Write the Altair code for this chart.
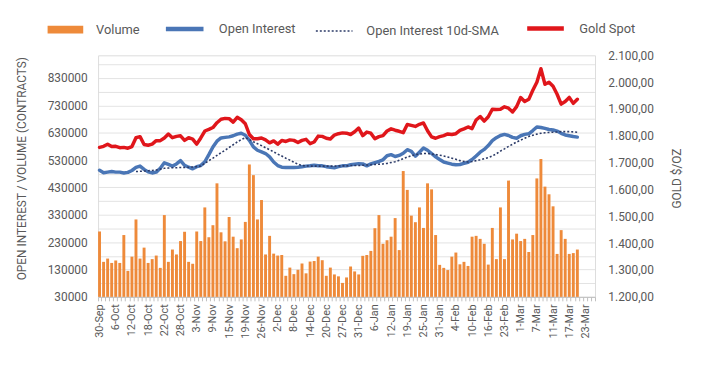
import json
import altair as alt
import pandas as pd

# ---------------- categories ----------------
holidays = ["2021-11-25", "2021-12-24", "2022-01-17", "2022-02-21"]
days = [d for d in pd.bdate_range("2021-09-30", "2022-03-25") if d.strftime("%Y-%m-%d") not in holidays]
dates = [f"{d.day}-{d.strftime('%b')}" for d in days]
shown_labels = dates[::4]

# ---------------- series ----------------
volume = [269000, 158000, 170000, 154000, 163000, 154000, 256000, 125000, 177000, 313000,
          170000, 210000, 154000, 168000, 181000, 136000, 329000, 158000, 203000, 185000,
          234000, 268000, 158000, 151000, 269000, 234000, 357000, 248000, 292000, 445000,
          266000, 233000, 322000, 250000, 208000, 240000, 304000, 514000, 475000, 313000,
          384000, 185000, 253000, 188000, 181000, 183000, 107000, 137000, 113000, 129000,
          152000, 116000, 159000, 161000, 177000, 164000, 107000, 137000, 112000, 105000,
          81000, 101000, 141000, 123000, 112000, 180000, 183000, 198000, 281000, 329000,
          224000, 237000, 250000, 318000, 201000, 490000, 421000, 327000, 303000, 357000,
          282000, 445000, 423000, 256000, 147000, 136000, 128000, 177000, 192000, 149000,
          158000, 143000, 250000, 253000, 242000, 224000, 148000, 282000, 168000, 357000,
          168000, 455000, 240000, 261000, 234000, 242000, 194000, 256000, 463000, 534000,
          433000, 405000, 361000, 187000, 274000, 242000, 187000, 190000, 203000]

open_interest = [493000, 484000, 486000, 488000, 486000, 486000, 483000, 485000, 492000, 503000,
                 508000, 496000, 487000, 483000, 486000, 500000, 520000, 514000, 508000, 516000,
                 528000, 511000, 504000, 498000, 506000, 510000, 524000, 550000, 578000, 599000,
                 611000, 613000, 615000, 619000, 625000, 628000, 621000, 602000, 578000, 566000,
                 560000, 554000, 542000, 523000, 510000, 504000, 503000, 503000, 503000, 504000,
                 506000, 508000, 509000, 511000, 509000, 509000, 506000, 504000, 502000, 506000,
                 509000, 509000, 513000, 515000, 517000, 516000, 509000, 516000, 521000, 525000,
                 531000, 546000, 550000, 543000, 547000, 555000, 568000, 562000, 544000, 559000,
                 574000, 566000, 554000, 542000, 532000, 523000, 519000, 515000, 513000, 514000,
                 518000, 522000, 532000, 545000, 559000, 569000, 583000, 601000, 612000, 620000,
                 624000, 620000, 613000, 610000, 619000, 624000, 626000, 638000, 651000, 649000,
                 646000, 642000, 640000, 636000, 628000, 622000, 619000, 616000, 614000]

oi_sma10 = [None] * 9 + [
                 488000, 489000, 490000, 491000, 492000, 494000, 497000, 500000, 501000, 502000,
                 502000, 503000, 503000, 504000, 505000, 506000, 508000, 518000, 528000, 537000,
                 547000, 557000, 566000, 576000, 586000, 596000, 605000, 612000, 605000, 597000,
                 590000, 583000, 575000, 568000, 560000, 552000, 545000, 537000, 530000, 522000,
                 515000, 510000, 509000, 508000, 508000, 508000, 508000, 508000, 508000, 508000,
                 509000, 509000, 509000, 510000, 510000, 510000, 511000, 512000, 513000, 514000,
                 515000, 516000, 518000, 521000, 524000, 529000, 535000, 541000, 546000, 550000,
                 552000, 554000, 554000, 552000, 550000, 548000, 545000, 541000, 537000, 533000,
                 528000, 525000, 523000, 525000, 528000, 531000, 535000, 539000, 545000, 553000,
                 563000, 571000, 580000, 588000, 596000, 603000, 610000, 616000, 621000, 625000,
                 628000, 630000, 631000, 632000, 633000, 634000, 634000, 634000, 633000, 632000]

gold_spot = [1757, 1761, 1769, 1760, 1761, 1756, 1757, 1754, 1760, 1793,
             1797, 1768, 1765, 1769, 1782, 1782, 1792, 1807, 1793, 1798,
             1800, 1783, 1793, 1788, 1769, 1792, 1818, 1824, 1831, 1849,
             1862, 1865, 1864, 1851, 1869, 1860, 1845, 1805, 1789, 1789,
             1792, 1785, 1774, 1781, 1769, 1783, 1779, 1785, 1783, 1775,
             1783, 1787, 1771, 1777, 1799, 1798, 1791, 1788, 1803, 1808,
             1811, 1810, 1805, 1815, 1829, 1801, 1814, 1810, 1789, 1797,
             1801, 1818, 1826, 1821, 1817, 1812, 1842, 1839, 1835, 1843,
             1848, 1819, 1796, 1791, 1797, 1801, 1807, 1805, 1808, 1820,
             1826, 1833, 1827, 1859, 1872, 1855, 1871, 1899, 1898, 1899,
             1908, 1903, 1889, 1909, 1943, 1928, 1936, 1970, 2000, 2050,
             1992, 2000, 1985, 1955, 1918, 1928, 1943, 1921, 1936]

left_ticks = list(range(30000, 913000, 50000))
right_ticks = list(range(1200, 2101, 100))

n = len(volume)
df = pd.DataFrame({
    "date": dates[:n],
    "volume": volume,
    "oi": open_interest,
    "sma": oi_sma10,
    "gold": gold_spot,
})

FONT = "Roboto"
GREY = "#595959"
ORANGE = "#EE8A3A"
BLUE = "#4A76B6"
RED = "#E0161B"
NAVY = "#2B3A67"

label_expr = "indexof(" + json.dumps(shown_labels) + ", datum.value) >= 0 ? datum.value : ''"
x_scale = alt.Scale(domain=dates, paddingInner=0.28, paddingOuter=0)
x_axis = alt.Axis(title=None, labelExpr=label_expr, labelAngle=270, labelFontSize=11,
                  labelColor=GREY, labelFont=FONT, labelOverlap=False, labelPadding=3,
                  tickBand="extent", tickColor="#BFBFBF", tickSize=4, domainColor="#BFBFBF",
                  grid=False)
x_bar = alt.X("date:N", scale=x_scale, axis=x_axis)
x_line = alt.X("date:N", scale=x_scale, axis=x_axis, bandPosition=0.5)

yl_scale = alt.Scale(domain=[30000, 913000], nice=False, zero=False)
yl_axis = alt.Axis(
    title="OPEN INTEREST / VOLUME (CONTRACTS)", values=left_ticks,
    labelExpr="(datum.value - 30000) % 100000 == 0 ? format(datum.value, 'd') : ''",
    grid=True, gridColor="#DCDCDC", gridWidth=0.8, domain=False, ticks=False,
    labelFontSize=12, labelColor=GREY, labelFont=FONT, labelPadding=11,
    titleFontSize=12, titleFontWeight="normal", titleColor=GREY, titleFont=FONT,
    titleX=-77, titleY=114, titleAngle=270, titleAlign="center", titleBaseline="middle")

yr_scale = alt.Scale(domain=[1200, 2100], nice=False, zero=False)
yr_axis = alt.Axis(
    orient="right", title="GOLD $/OZ", values=right_ticks,
    labelExpr="replace(replace(replace(format(datum.value, ',.2f'), ',', '_'), '.', ','), '_', '.')",
    grid=False, domain=False, ticks=False,
    labelFontSize=12, labelColor=GREY, labelFont=FONT, labelPadding=13,
    titleFontSize=12, titleFontWeight="normal", titleColor=GREY, titleFont=FONT,
    titleX=82, titleY=124, titleAngle=270, titleAlign="center", titleBaseline="middle")

def legend(x, y, **kw):
    return alt.Legend(orient="none", legendX=x, legendY=y, direction="horizontal", title=None,
                      labelFontSize=13, labelColor=GREY, labelFont=FONT, padding=0,
                      labelOffset=13, **kw)

bars = alt.Chart(df).transform_calculate(s1="'Volume'").mark_bar().encode(
    x=x_bar,
    y=alt.Y("volume:Q", scale=yl_scale, axis=yl_axis),
    y2=alt.datum(30000),
    fill=alt.Fill("s1:N", scale=alt.Scale(domain=["Volume"], range=[ORANGE]),
                  legend=legend(-51, -44, symbolType="M-1,-0.22H1V0.22H-1Z", symbolSize=1296,
                                symbolStrokeWidth=0)),
)

oi_line = alt.Chart(df).transform_calculate(s2="'Open Interest'").mark_line(
    strokeWidth=3.5, strokeJoin="round", strokeCap="round").encode(
    x=x_line,
    y=alt.Y("oi:Q", scale=yl_scale, axis=yl_axis),
    stroke=alt.Stroke("s2:N", scale=alt.Scale(domain=["Open Interest"], range=[BLUE]),
                      legend=legend(66, -48, symbolType="stroke", symbolSize=1444,
                                    symbolStrokeWidth=4.5)),
)

sma_line = alt.Chart(df).transform_filter("isValid(datum.sma)").transform_calculate(
    s3="'Open Interest 10d-SMA'").mark_line(strokeWidth=1.6, stroke=NAVY).encode(
    x=x_line,
    y=alt.Y("sma:Q", scale=yl_scale, axis=yl_axis),
    strokeDash=alt.StrokeDash("s3:N", scale=alt.Scale(domain=["Open Interest 10d-SMA"], range=[[2, 2]]),
                              legend=legend(219, -44, symbolType="stroke", symbolSize=1369,
                                            symbolStrokeWidth=1.6, symbolStrokeColor=NAVY)),
)

gold_line = alt.Chart(df).transform_calculate(s4="'Gold Spot'").mark_line(
    strokeWidth=3.5, strokeJoin="round", strokeCap="round").encode(
    x=x_line,
    y=alt.Y("gold:Q", scale=yr_scale, axis=yr_axis),
    color=alt.Color("s4:N", scale=alt.Scale(domain=["Gold Spot"], range=[RED]),
                    legend=legend(431, -48, symbolType="stroke", symbolSize=1369,
                                  symbolStrokeWidth=4.5)),
)

left = alt.layer(bars, oi_line, sma_line)
chart = alt.layer(left, gold_line).resolve_scale(y="independent").properties(
    width=502, height=244,
    autosize=alt.AutoSizeParams(type="none"),
    padding={"left": 91, "top": 46, "right": 100, "bottom": 65},
).configure_view(stroke=None).configure(font=FONT)

chart.save("out.html", embed_options={"renderer": "svg", "actions": False})
